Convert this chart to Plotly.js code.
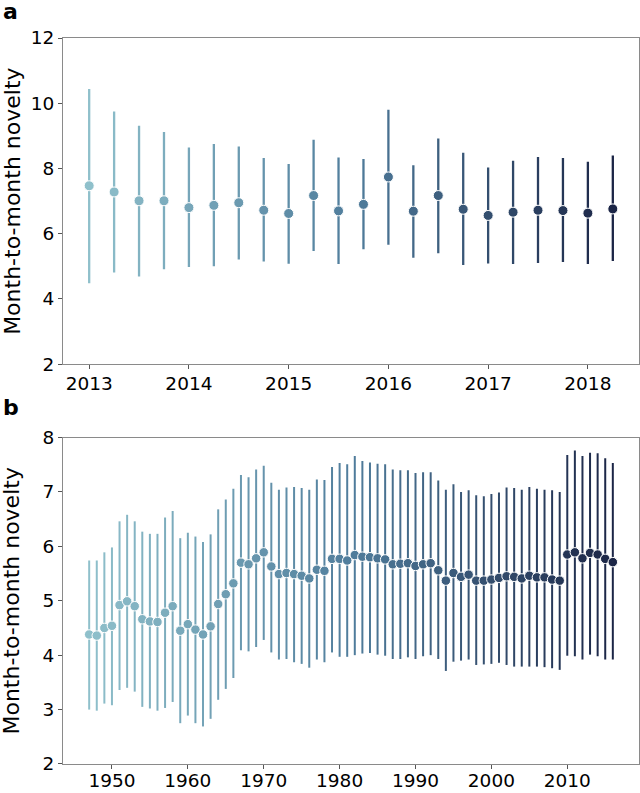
<!DOCTYPE html>
<html>
<head>
<meta charset="utf-8">
<script src="https://cdn.plot.ly/plotly-3.0.1.min.js"></script>
<style>html,body{margin:0;padding:0;background:#fff;}#chart{width:640px;height:793px;}</style>
</head>
<body>
<div id="chart"></div>
<script>
// Panel a: quarterly
const aPeriods = [2013, 2013.25, 2013.5, 2013.75, 2014, 2014.25, 2014.5, 2014.75, 2015, 2015.25, 2015.5, 2015.75,
  2016, 2016.25, 2016.5, 2016.75, 2017, 2017.25, 2017.5, 2017.75, 2018, 2018.25];
const aMean  = [7.47, 7.28, 7.01, 7.01, 6.80, 6.87, 6.95, 6.72, 6.62, 7.17, 6.70, 6.90,
  7.74, 6.69, 7.17, 6.75, 6.56, 6.66, 6.72, 6.71, 6.63, 6.76];
const aUpper = [10.44, 9.75, 9.31, 9.12, 8.64, 8.75, 8.67, 8.32, 8.14, 8.88, 8.34, 8.29,
  9.80, 8.10, 8.92, 8.48, 8.03, 8.24, 8.35, 8.32, 8.21, 8.40];
const aLower = [4.48, 4.81, 4.69, 4.91, 4.98, 5.00, 5.21, 5.15, 5.08, 5.47, 5.07, 5.52,
  5.66, 5.26, 5.40, 5.04, 5.09, 5.07, 5.10, 5.13, 5.07, 5.16];
const aTicks = [2013, 2014, 2015, 2016, 2017, 2018];

// Panel b: yearly
const bYears = [1947,1948,1949,1950,1951,1952,1953,1954,1955,1956,
  1957,1958,1959,1960,1961,1962,1963,1964,1965,1966,
  1967,1968,1969,1970,1971,1972,1973,1974,1975,1976,
  1977,1978,1979,1980,1981,1982,1983,1984,1985,1986,
  1987,1988,1989,1990,1991,1992,1993,1994,1995,1996,
  1997,1998,1999,2000,2001,2002,2003,2004,2005,2006,
  2007,2008,2009,2010,2011,2012,2013,2014,2015,2016];
const bMean = [4.38,4.36,4.50,4.54,4.92,4.99,4.90,4.66,4.62,4.61,
  4.78,4.90,4.45,4.57,4.47,4.38,4.53,4.94,5.12,5.32,
  5.70,5.67,5.78,5.89,5.63,5.49,5.51,5.49,5.46,5.41,
  5.57,5.55,5.77,5.77,5.74,5.84,5.81,5.80,5.78,5.76,
  5.67,5.68,5.69,5.64,5.67,5.69,5.56,5.37,5.51,5.44,
  5.48,5.37,5.37,5.39,5.42,5.45,5.44,5.41,5.46,5.43,
  5.43,5.39,5.37,5.85,5.89,5.78,5.88,5.85,5.77,5.71];
const bUpper = [5.74,5.74,5.89,5.98,6.46,6.58,6.46,6.27,6.23,6.23,
  6.53,6.65,6.15,6.25,6.18,6.08,6.22,6.68,6.86,7.06,
  7.31,7.27,7.41,7.48,7.17,7.04,7.08,7.09,7.07,7.04,
  7.23,7.22,7.46,7.53,7.51,7.66,7.57,7.54,7.52,7.51,
  7.41,7.40,7.40,7.35,7.36,7.36,7.21,7.04,7.14,7.00,
  7.03,6.94,6.92,6.96,6.99,7.08,7.07,7.04,7.09,7.06,
  7.04,7.03,7.00,7.68,7.76,7.66,7.72,7.71,7.62,7.53];
const bLower = [3.00,2.98,3.11,3.08,3.36,3.40,3.33,3.05,3.02,2.98,
  3.03,3.14,2.75,2.89,2.75,2.69,2.83,3.18,3.38,3.58,
  4.09,4.07,4.15,4.28,4.05,3.92,3.93,3.87,3.84,3.77,
  3.92,3.87,4.05,3.97,3.97,4.00,4.03,4.04,4.01,3.99,
  3.93,3.93,3.96,3.93,3.98,4.00,3.93,3.71,3.88,3.90,
  3.92,3.82,3.83,3.84,3.86,3.82,3.79,3.79,3.79,3.79,
  3.78,3.76,3.73,3.99,3.98,3.92,4.01,3.98,3.92,3.92];
const bTicks = [1950, 1960, 1970, 1980, 1990, 2000, 2010];

const yLabel = 'Month-to-month novelty';

// colour ramp (light teal -> dark navy)
const stops = [[0, [143, 192, 203]], [0.5, [80, 125, 156]], [1, [27, 37, 70]]];
function ramp(t) {
  for (let k = 0; k < stops.length - 1; k++) {
    const [t0, c0] = stops[k], [t1, c1] = stops[k + 1];
    if (t <= t1) {
      const f = (t - t0) / (t1 - t0);
      const c = c0.map((v, j) => Math.round(v + f * (c1[j] - v)));
      return 'rgb(' + c.join(',') + ')';
    }
  }
  const c = stops[stops.length - 1][1];
  return 'rgb(' + c.join(',') + ')';
}

const traces = [];
function addPanel(xs, mean, up, lo, xa, ya, msize, thick) {
  const n = xs.length;
  for (let i = 0; i < n; i++) {
    const col = ramp(i / (n - 1));
    traces.push({
      type: 'scatter', mode: 'markers',
      x: [xs[i]], y: [mean[i]], xaxis: xa, yaxis: ya,
      marker: {size: msize, color: col, line: {color: 'white', width: 1}},
      error_y: {type: 'data', symmetric: false, array: [up[i] - mean[i]], arrayminus: [mean[i] - lo[i]],
        color: col, thickness: thick, width: 0},
      showlegend: false, hoverinfo: 'x+y'
    });
  }
}
addPanel(aPeriods, aMean, aUpper, aLower, 'x', 'y', 10, 2.3);
addPanel(bYears, bMean, bUpper, bLower, 'x2', 'y2', 9.5, 2);

const font = {family: 'DejaVu Sans, sans-serif', size: 18.5, color: '#000'};
const axisCommon = {
  showline: true, mirror: true, linecolor: '#8a8a8a', linewidth: 1,
  ticks: 'outside', ticklen: 4, tickcolor: '#555', tickwidth: 1,
  showgrid: false, zeroline: false, tickfont: font
};

const layout = {
  width: 640, height: 793,
  margin: {l: 63, r: 1, t: 38, b: 29},
  paper_bgcolor: '#fff', plot_bgcolor: '#fff',
  font: font,
  showlegend: false,
  xaxis: Object.assign({}, axisCommon, {domain: [0, 1], range: [2012.7375, 2018.5125], tickvals: aTicks, ticktext: aTicks.map(String), anchor: 'y', ticklabelstandoff: -1}),
  yaxis: Object.assign({}, axisCommon, {domain: [0.5507, 1], range: [2, 12], tickvals: [2, 4, 6, 8, 10, 12], anchor: 'x'}),
  xaxis2: Object.assign({}, axisCommon, {domain: [0, 1], range: [1943.55, 2019.45], tickvals: bTicks, ticktext: bTicks.map(String), anchor: 'y2', ticklabelstandoff: -4}),
  yaxis2: Object.assign({}, axisCommon, {domain: [0, 0.4497], range: [2, 8], tickvals: [2, 3, 4, 5, 6, 7, 8], anchor: 'x2'}),
  annotations: [
    {text: '<b>a</b>', xref: 'paper', yref: 'paper', x: -0.107, y: 1.037, xanchor: 'left', yanchor: 'middle', showarrow: false, font: {family: 'DejaVu Sans, sans-serif', size: 22, color: '#000'}},
    {text: '<b>b</b>', xref: 'paper', yref: 'paper', x: -0.107, y: 0.4906, xanchor: 'left', yanchor: 'middle', showarrow: false, font: {family: 'DejaVu Sans, sans-serif', size: 22, color: '#000'}},
    {text: yLabel, xref: 'paper', yref: 'paper', x: -0.089, y: 0.7753, xanchor: 'center', yanchor: 'middle', textangle: -90, showarrow: false, font: {family: 'DejaVu Sans, sans-serif', size: 22, color: '#000'}},
    {text: yLabel, xref: 'paper', yref: 'paper', x: -0.089, y: 0.2248, xanchor: 'center', yanchor: 'middle', textangle: -90, showarrow: false, font: {family: 'DejaVu Sans, sans-serif', size: 22, color: '#000'}}
  ]
};

Plotly.newPlot('chart', traces, layout, {displayModeBar: false, staticPlot: true});
</script>
</body>
</html>
